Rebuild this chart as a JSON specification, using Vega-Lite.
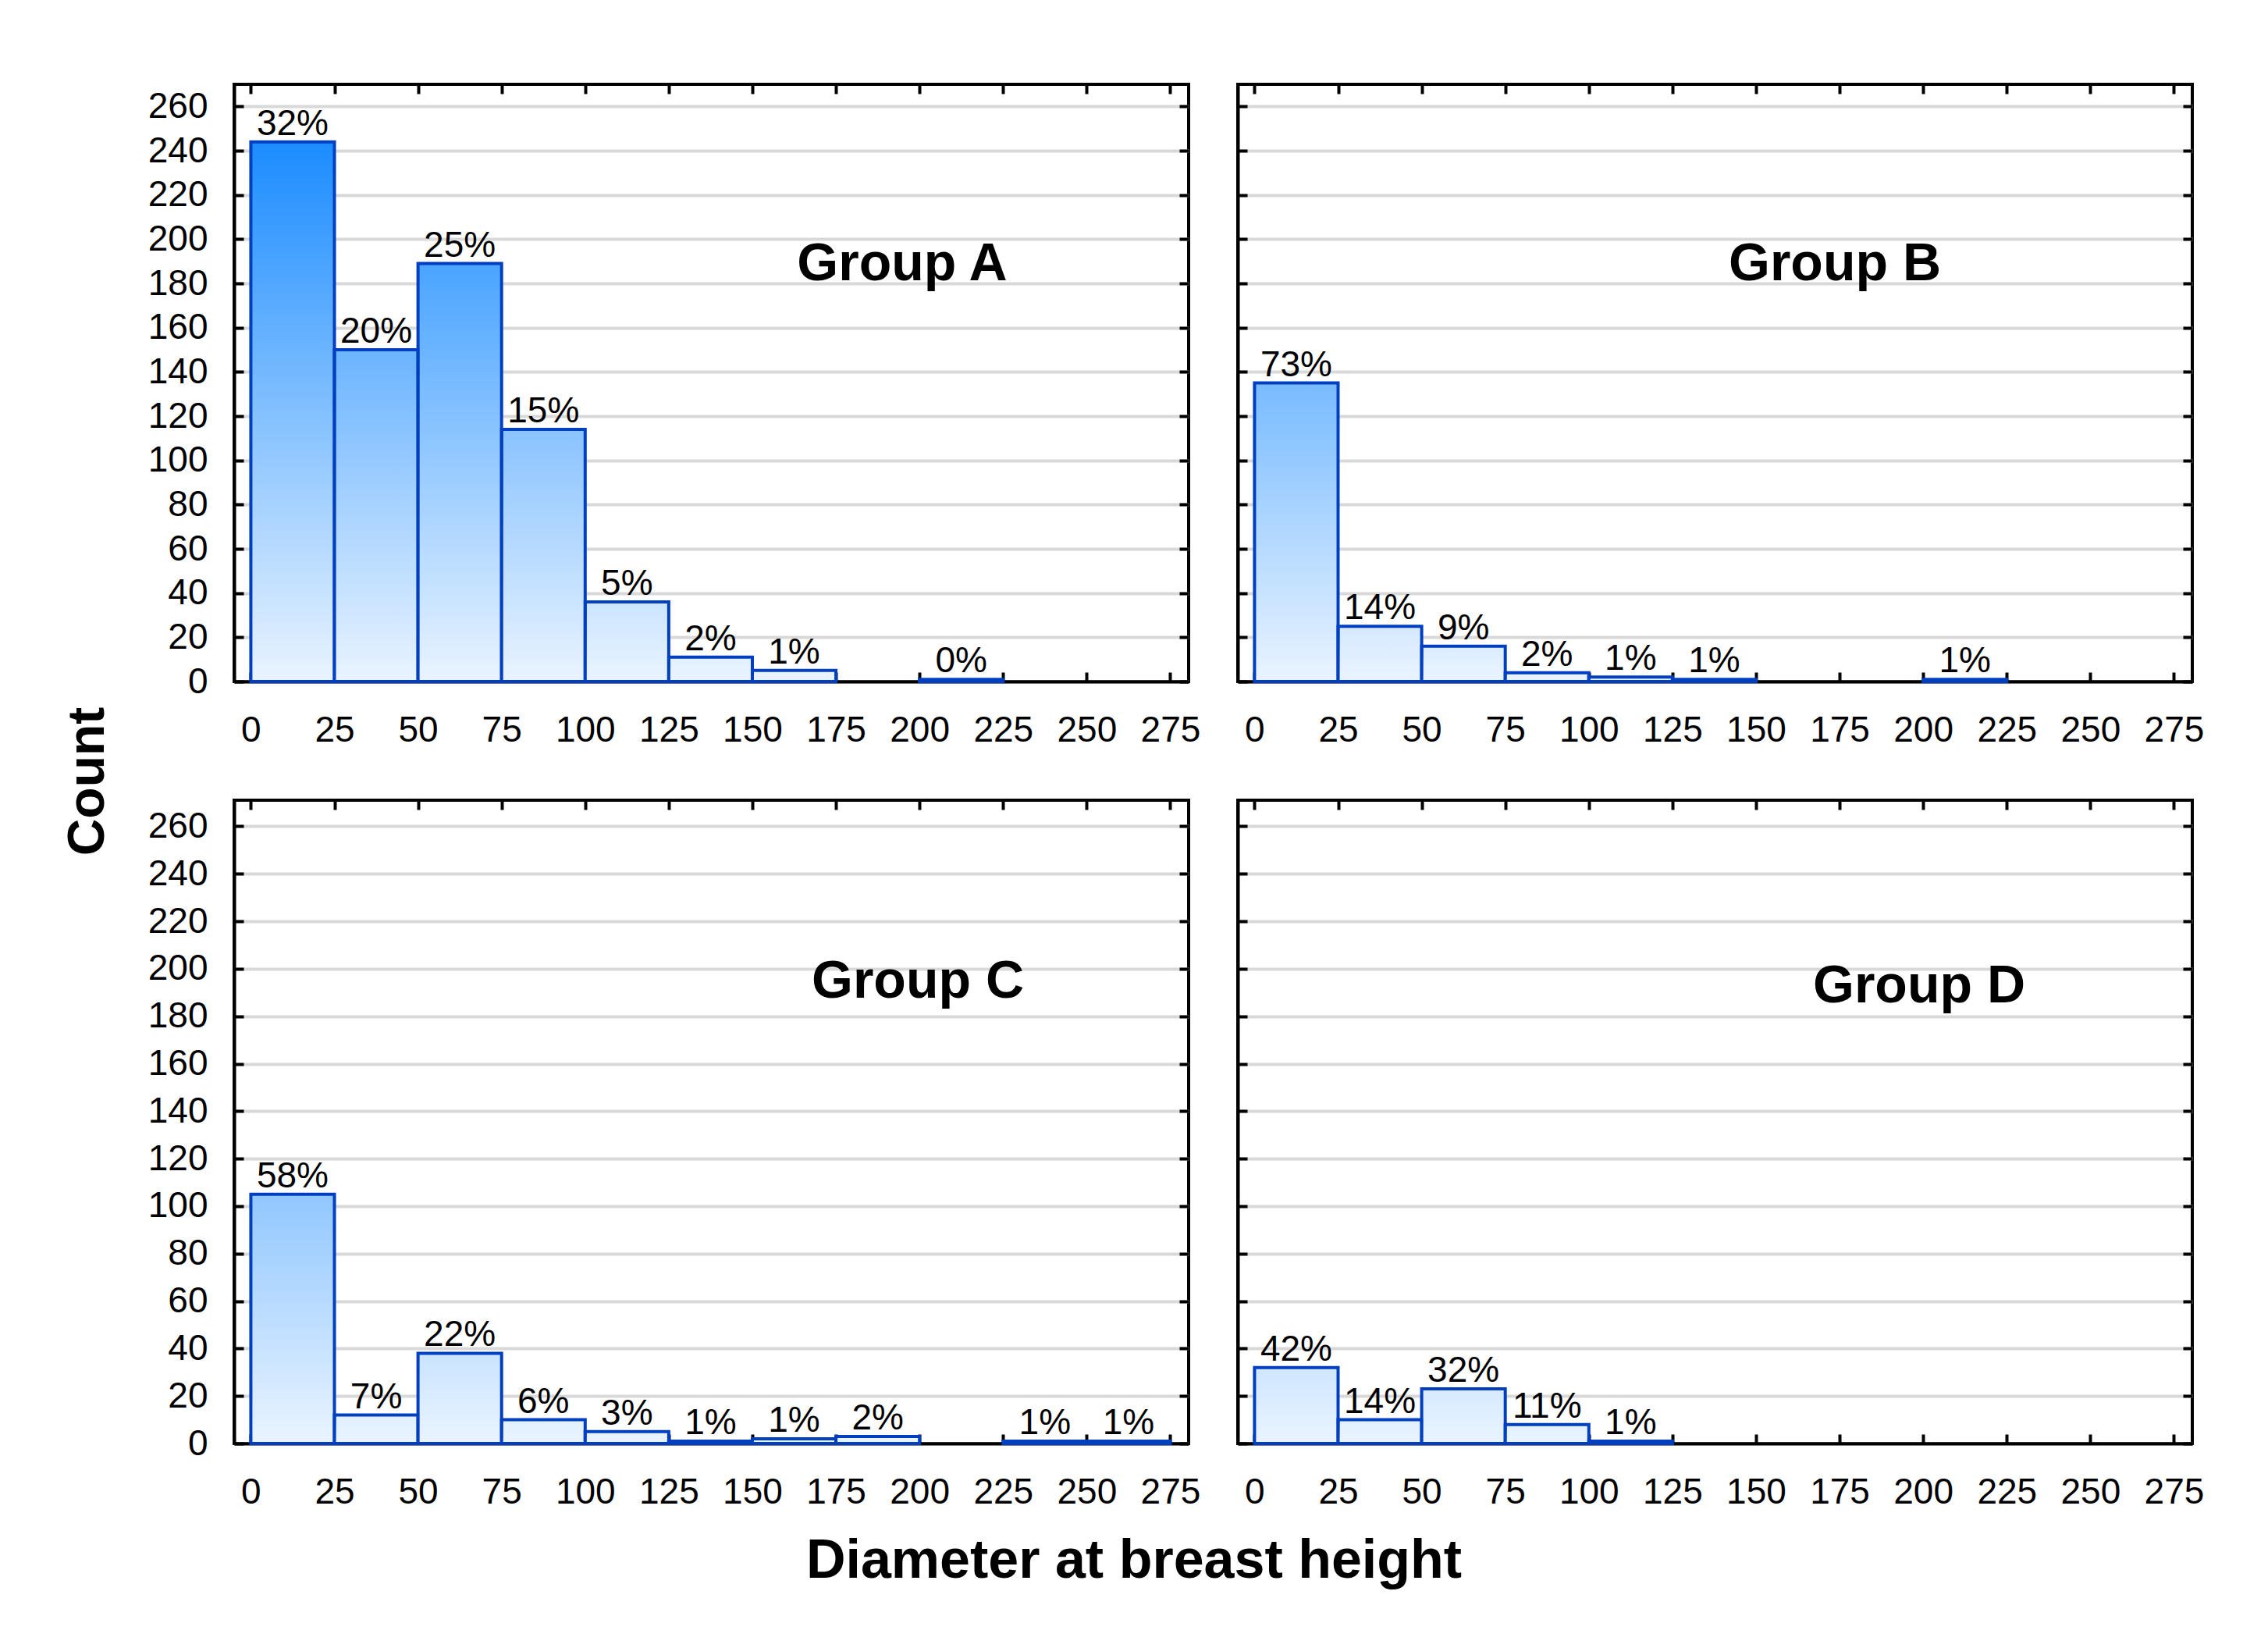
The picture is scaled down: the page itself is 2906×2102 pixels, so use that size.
{
  "$schema": "https://vega.github.io/schema/vega-lite/v6.json",
  "background": "white",
  "padding": {"left": 80, "top": 104, "right": 10, "bottom": 10},
  "title": {"text": "Diameter at breast height", "orient": "bottom", "anchor": "middle", "offset": 30, "fontSize": 70, "fontWeight": "bold", "font": "Liberation Sans", "color": "black"},
  "data": {"values": [
    {"group": "Group A", "bin0": 0, "bin1": 25, "mid": 12.5, "count": 244, "pct": "32%"},
    {"group": "Group A", "bin0": 25, "bin1": 50, "mid": 37.5, "count": 150, "pct": "20%"},
    {"group": "Group A", "bin0": 50, "bin1": 75, "mid": 62.5, "count": 189, "pct": "25%"},
    {"group": "Group A", "bin0": 75, "bin1": 100, "mid": 87.5, "count": 114, "pct": "15%"},
    {"group": "Group A", "bin0": 100, "bin1": 125, "mid": 112.5, "count": 36, "pct": "5%"},
    {"group": "Group A", "bin0": 125, "bin1": 150, "mid": 137.5, "count": 11, "pct": "2%"},
    {"group": "Group A", "bin0": 150, "bin1": 175, "mid": 162.5, "count": 5, "pct": "1%"},
    {"group": "Group A", "bin0": 200, "bin1": 225, "mid": 212.5, "count": 1, "pct": "0%"},
    {"group": "Group B", "bin0": 0, "bin1": 25, "mid": 12.5, "count": 135, "pct": "73%"},
    {"group": "Group B", "bin0": 25, "bin1": 50, "mid": 37.5, "count": 25, "pct": "14%"},
    {"group": "Group B", "bin0": 50, "bin1": 75, "mid": 62.5, "count": 16, "pct": "9%"},
    {"group": "Group B", "bin0": 75, "bin1": 100, "mid": 87.5, "count": 4, "pct": "2%"},
    {"group": "Group B", "bin0": 100, "bin1": 125, "mid": 112.5, "count": 2, "pct": "1%"},
    {"group": "Group B", "bin0": 125, "bin1": 150, "mid": 137.5, "count": 1, "pct": "1%"},
    {"group": "Group B", "bin0": 200, "bin1": 225, "mid": 212.5, "count": 1, "pct": "1%"},
    {"group": "Group C", "bin0": 0, "bin1": 25, "mid": 12.5, "count": 105, "pct": "58%"},
    {"group": "Group C", "bin0": 25, "bin1": 50, "mid": 37.5, "count": 12, "pct": "7%"},
    {"group": "Group C", "bin0": 50, "bin1": 75, "mid": 62.5, "count": 38, "pct": "22%"},
    {"group": "Group C", "bin0": 75, "bin1": 100, "mid": 87.5, "count": 10, "pct": "6%"},
    {"group": "Group C", "bin0": 100, "bin1": 125, "mid": 112.5, "count": 5, "pct": "3%"},
    {"group": "Group C", "bin0": 125, "bin1": 150, "mid": 137.5, "count": 1, "pct": "1%"},
    {"group": "Group C", "bin0": 150, "bin1": 175, "mid": 162.5, "count": 2, "pct": "1%"},
    {"group": "Group C", "bin0": 175, "bin1": 200, "mid": 187.5, "count": 3, "pct": "2%"},
    {"group": "Group C", "bin0": 225, "bin1": 250, "mid": 237.5, "count": 1, "pct": "1%"},
    {"group": "Group C", "bin0": 250, "bin1": 275, "mid": 262.5, "count": 1, "pct": "1%"},
    {"group": "Group D", "bin0": 0, "bin1": 25, "mid": 12.5, "count": 32, "pct": "42%"},
    {"group": "Group D", "bin0": 25, "bin1": 50, "mid": 37.5, "count": 10, "pct": "14%"},
    {"group": "Group D", "bin0": 50, "bin1": 75, "mid": 62.5, "count": 23, "pct": "32%"},
    {"group": "Group D", "bin0": 75, "bin1": 100, "mid": 87.5, "count": 8, "pct": "11%"},
    {"group": "Group D", "bin0": 100, "bin1": 125, "mid": 112.5, "count": 1, "pct": "1%"}
  ]},
  "config": {
    "view": {"stroke": "black", "strokeWidth": 4},
    "axis": {"labelFont": "Liberation Sans", "labelFontSize": 46, "labelColor": "black", "tickColor": "black", "tickWidth": 4, "tickSize": -12, "domainColor": "black", "domainWidth": 4, "gridColor": "#d9d9d9", "gridWidth": 4, "labelFlush": false, "labelOverlap": false},
    "axisX": {"labelPadding": 52},
    "axisY": {"labelPadding": 46},
    "text": {"font": "Liberation Sans"},
    "title": {"font": "Liberation Sans", "color": "black"}
  },
  "vconcat": [
    {
      "title": {"text": "Count", "orient": "left", "anchor": "middle", "offset": 40, "dx": 19, "fontSize": 66, "fontWeight": "bold"},
      "bounds": "flush",
      "columns": 2,
      "spacing": {"row": 152, "column": 63},
      "concat": [
        {
          "width": 1223, "height": 765,
          "title": {"text": "Group A", "anchor": "start", "align": "center", "dx": 856, "offset": -301, "baseline": "middle", "fontSize": 68, "fontWeight": "bold", "frame": "group"},
          "transform": [{"filter": "datum.group === 'Group A'"}],
          "resolve": {"axis": {"x": "independent", "y": "independent"}},
          "layer": [
            {"mark": {"type": "bar", "strokeWidth": 0},
             "encoding": {
               "x": {"field": "bin0", "type": "quantitative", "scale": {"domain": [-5, 280.5], "nice": false, "zero": false}, "axis": {"orient": "bottom", "values": [0,25,50,75,100,125,150,175,200,225,250,275], "title": null, "grid": false}},
               "x2": {"field": "bin1"},
               "y": {"field": "count", "type": "quantitative", "scale": {"domain": [0, 270], "nice": false}, "axis": {"orient": "left", "values": [0,20,40,60,80,100,120,140,160,180,200,220,240,260], "title": null, "grid": true}},
               "y2": {"datum": 0},
               "color": {"field": "count", "type": "quantitative", "scale": {"domain": [0, 270], "range": ["#eaf4ff", "#0581ff"], "interpolate": "rgb"}, "legend": null}
             }},
            {"mark": {"type": "bar", "fill": {"gradient": "linear", "x1": 0, "y1": 0, "x2": 0, "y2": 1, "stops": [{"offset": 0, "color": "rgba(234,244,255,0)"}, {"offset": 1, "color": "rgba(234,244,255,1)"}]}, "stroke": "#0040c0", "strokeWidth": 4},
             "encoding": {
               "x": {"field": "bin0", "type": "quantitative", "scale": {"domain": [-5, 280.5], "nice": false, "zero": false}, "axis": null},
               "x2": {"field": "bin1"},
               "y": {"field": "count", "type": "quantitative", "scale": {"domain": [0, 270], "nice": false}, "axis": null},
               "y2": {"datum": 0}
             }},
            {"mark": {"type": "text", "baseline": "alphabetic", "dy": -9, "fontSize": 46, "color": "black"},
             "encoding": {
               "x": {"field": "mid", "type": "quantitative", "scale": {"domain": [-5, 280.5], "nice": false, "zero": false}, "axis": {"orient": "top", "values": [0,25,50,75,100,125,150,175,200,225,250,275], "labels": false, "domain": false, "title": null, "grid": false}},
               "y": {"field": "count", "type": "quantitative", "scale": {"domain": [0, 270], "nice": false}, "axis": {"orient": "right", "values": [0,20,40,60,80,100,120,140,160,180,200,220,240,260], "labels": false, "domain": false, "title": null, "grid": false}},
               "text": {"field": "pct"}
             }}
          ]
        },
        {
          "width": 1223, "height": 765,
          "title": {"text": "Group B", "anchor": "start", "align": "center", "dx": 765, "offset": -301, "baseline": "middle", "fontSize": 68, "fontWeight": "bold", "frame": "group"},
          "transform": [{"filter": "datum.group === 'Group B'"}],
          "resolve": {"axis": {"x": "independent", "y": "independent"}},
          "layer": [
            {"mark": {"type": "bar", "strokeWidth": 0},
             "encoding": {
               "x": {"field": "bin0", "type": "quantitative", "scale": {"domain": [-5, 280.5], "nice": false, "zero": false}, "axis": {"orient": "bottom", "values": [0,25,50,75,100,125,150,175,200,225,250,275], "title": null, "grid": false}},
               "x2": {"field": "bin1"},
               "y": {"field": "count", "type": "quantitative", "scale": {"domain": [0, 270], "nice": false}, "axis": {"orient": "left", "values": [0,20,40,60,80,100,120,140,160,180,200,220,240,260], "labels": false, "title": null, "grid": true}},
               "y2": {"datum": 0},
               "color": {"field": "count", "type": "quantitative", "scale": {"domain": [0, 270], "range": ["#eaf4ff", "#0581ff"], "interpolate": "rgb"}, "legend": null}
             }},
            {"mark": {"type": "bar", "fill": {"gradient": "linear", "x1": 0, "y1": 0, "x2": 0, "y2": 1, "stops": [{"offset": 0, "color": "rgba(234,244,255,0)"}, {"offset": 1, "color": "rgba(234,244,255,1)"}]}, "stroke": "#0040c0", "strokeWidth": 4},
             "encoding": {
               "x": {"field": "bin0", "type": "quantitative", "scale": {"domain": [-5, 280.5], "nice": false, "zero": false}, "axis": null},
               "x2": {"field": "bin1"},
               "y": {"field": "count", "type": "quantitative", "scale": {"domain": [0, 270], "nice": false}, "axis": null},
               "y2": {"datum": 0}
             }},
            {"mark": {"type": "text", "baseline": "alphabetic", "dy": -9, "fontSize": 46, "color": "black"},
             "encoding": {
               "x": {"field": "mid", "type": "quantitative", "scale": {"domain": [-5, 280.5], "nice": false, "zero": false}, "axis": {"orient": "top", "values": [0,25,50,75,100,125,150,175,200,225,250,275], "labels": false, "domain": false, "title": null, "grid": false}},
               "y": {"field": "count", "type": "quantitative", "scale": {"domain": [0, 270], "nice": false}, "axis": {"orient": "right", "values": [0,20,40,60,80,100,120,140,160,180,200,220,240,260], "labels": false, "domain": false, "title": null, "grid": false}},
               "text": {"field": "pct"}
             }}
          ]
        },
        {
          "width": 1223, "height": 824,
          "title": {"text": "Group C", "anchor": "start", "align": "center", "dx": 876, "offset": -303, "baseline": "middle", "fontSize": 68, "fontWeight": "bold", "frame": "group"},
          "transform": [{"filter": "datum.group === 'Group C'"}],
          "resolve": {"axis": {"x": "independent", "y": "independent"}},
          "layer": [
            {"mark": {"type": "bar", "strokeWidth": 0},
             "encoding": {
               "x": {"field": "bin0", "type": "quantitative", "scale": {"domain": [-5, 280.5], "nice": false, "zero": false}, "axis": {"orient": "bottom", "values": [0,25,50,75,100,125,150,175,200,225,250,275], "title": null, "grid": false}},
               "x2": {"field": "bin1"},
               "y": {"field": "count", "type": "quantitative", "scale": {"domain": [0, 271], "nice": false}, "axis": {"orient": "left", "values": [0,20,40,60,80,100,120,140,160,180,200,220,240,260], "title": null, "grid": true}},
               "y2": {"datum": 0},
               "color": {"field": "count", "type": "quantitative", "scale": {"domain": [0, 270], "range": ["#eaf4ff", "#0581ff"], "interpolate": "rgb"}, "legend": null}
             }},
            {"mark": {"type": "bar", "fill": {"gradient": "linear", "x1": 0, "y1": 0, "x2": 0, "y2": 1, "stops": [{"offset": 0, "color": "rgba(234,244,255,0)"}, {"offset": 1, "color": "rgba(234,244,255,1)"}]}, "stroke": "#0040c0", "strokeWidth": 4},
             "encoding": {
               "x": {"field": "bin0", "type": "quantitative", "scale": {"domain": [-5, 280.5], "nice": false, "zero": false}, "axis": null},
               "x2": {"field": "bin1"},
               "y": {"field": "count", "type": "quantitative", "scale": {"domain": [0, 271], "nice": false}, "axis": null},
               "y2": {"datum": 0}
             }},
            {"mark": {"type": "text", "baseline": "alphabetic", "dy": -9, "fontSize": 46, "color": "black"},
             "encoding": {
               "x": {"field": "mid", "type": "quantitative", "scale": {"domain": [-5, 280.5], "nice": false, "zero": false}, "axis": {"orient": "top", "values": [0,25,50,75,100,125,150,175,200,225,250,275], "labels": false, "domain": false, "title": null, "grid": false}},
               "y": {"field": "count", "type": "quantitative", "scale": {"domain": [0, 271], "nice": false}, "axis": {"orient": "right", "values": [0,20,40,60,80,100,120,140,160,180,200,220,240,260], "labels": false, "domain": false, "title": null, "grid": false}},
               "text": {"field": "pct"}
             }}
          ]
        },
        {
          "width": 1223, "height": 824,
          "title": {"text": "Group D", "anchor": "start", "align": "center", "dx": 873, "offset": -309, "baseline": "middle", "fontSize": 68, "fontWeight": "bold", "frame": "group"},
          "transform": [{"filter": "datum.group === 'Group D'"}],
          "resolve": {"axis": {"x": "independent", "y": "independent"}},
          "layer": [
            {"mark": {"type": "bar", "strokeWidth": 0},
             "encoding": {
               "x": {"field": "bin0", "type": "quantitative", "scale": {"domain": [-5, 280.5], "nice": false, "zero": false}, "axis": {"orient": "bottom", "values": [0,25,50,75,100,125,150,175,200,225,250,275], "title": null, "grid": false}},
               "x2": {"field": "bin1"},
               "y": {"field": "count", "type": "quantitative", "scale": {"domain": [0, 271], "nice": false}, "axis": {"orient": "left", "values": [0,20,40,60,80,100,120,140,160,180,200,220,240,260], "labels": false, "title": null, "grid": true}},
               "y2": {"datum": 0},
               "color": {"field": "count", "type": "quantitative", "scale": {"domain": [0, 270], "range": ["#eaf4ff", "#0581ff"], "interpolate": "rgb"}, "legend": null}
             }},
            {"mark": {"type": "bar", "fill": {"gradient": "linear", "x1": 0, "y1": 0, "x2": 0, "y2": 1, "stops": [{"offset": 0, "color": "rgba(234,244,255,0)"}, {"offset": 1, "color": "rgba(234,244,255,1)"}]}, "stroke": "#0040c0", "strokeWidth": 4},
             "encoding": {
               "x": {"field": "bin0", "type": "quantitative", "scale": {"domain": [-5, 280.5], "nice": false, "zero": false}, "axis": null},
               "x2": {"field": "bin1"},
               "y": {"field": "count", "type": "quantitative", "scale": {"domain": [0, 271], "nice": false}, "axis": null},
               "y2": {"datum": 0}
             }},
            {"mark": {"type": "text", "baseline": "alphabetic", "dy": -9, "fontSize": 46, "color": "black"},
             "encoding": {
               "x": {"field": "mid", "type": "quantitative", "scale": {"domain": [-5, 280.5], "nice": false, "zero": false}, "axis": {"orient": "top", "values": [0,25,50,75,100,125,150,175,200,225,250,275], "labels": false, "domain": false, "title": null, "grid": false}},
               "y": {"field": "count", "type": "quantitative", "scale": {"domain": [0, 271], "nice": false}, "axis": {"orient": "right", "values": [0,20,40,60,80,100,120,140,160,180,200,220,240,260], "labels": false, "domain": false, "title": null, "grid": false}},
               "text": {"field": "pct"}
             }}
          ]
        }
      ]
    }
  ]
}
